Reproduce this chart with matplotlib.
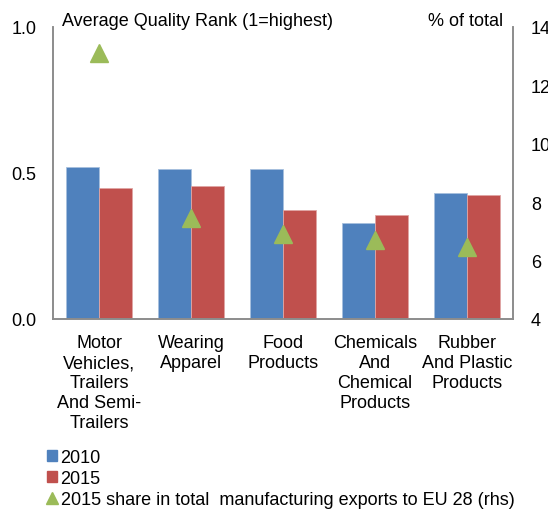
import matplotlib.pyplot as plt
import numpy as np
from matplotlib.lines import Line2D
from matplotlib.patches import Patch

plt.rcParams['font.family'] = ['Liberation Sans', 'DejaVu Sans']

# dados
categorias = ['Motor\nVehicles,\nTrailers\nAnd Semi-\nTrailers', 'Wearing\nApparel', 'Food\nProducts',
              'Chemicals\nAnd\nChemical\nProducts', 'Rubber\nAnd Plastic\nProducts']
rank_2010 = [0.52, 0.513, 0.513, 0.328, 0.43]
rank_2015 = [0.449, 0.457, 0.374, 0.355, 0.425]
share_2015 = [13.1, 7.45, 6.9, 6.72, 6.45]

azul = '#4F81BD'
vermelho = '#C0504D'
verde = '#9BBB59'
cinza = '#8C8C8C'
fs = 13

fig = plt.figure(figsize=(5.48, 5.10), dpi=100)
ax = fig.add_axes([53 / 548, (510 - 320) / 510, 460 / 548, 292 / 510])
ax2 = ax.twinx()

x = np.arange(len(categorias))
w = 0.362
ax.bar(x - w / 2, rank_2010, w, color=azul, edgecolor='#A7C0DE', linewidth=0.6, zorder=2)
ax.bar(x + w / 2, rank_2015, w, color=vermelho, edgecolor='#E0A5A4', linewidth=0.6, zorder=2)
ax2.plot(x, share_2015, linestyle='none', marker='^', markersize=13, color=verde)

ax.set_xlim(-0.5, len(categorias) - 0.5)
ax.set_ylim(0, 1.0)
ax.set_yticks([0.0, 0.5, 1.0])
ax.set_yticklabels(['0.0', '0.5', '1.0'])
ax2.set_ylim(4, 14)
ax2.set_yticks([4, 6, 8, 10, 12, 14])

ax.set_xticks(x)
ax.set_xticklabels(categorias, fontsize=fs, linespacing=1.22, va='top')

for a in (ax, ax2):
    for s in ['left', 'right', 'bottom']:
        a.spines[s].set_color(cinza)
        a.spines[s].set_linewidth(1.2)
    a.spines['top'].set_visible(False)
    a.tick_params(length=0, labelsize=fs, pad=12)
ax.tick_params(axis='x', pad=11)
ax2.tick_params(axis='y', pad=13)

fig.text(62 / 548, 1 - 21 / 510, 'Average Quality Rank (1=highest)', fontsize=fs, va='center', ha='left')
fig.text(503 / 548, 1 - 21 / 510, '% of total', fontsize=fs, va='center', ha='right')

handles = [Patch(color=azul), Patch(color=vermelho),
           Line2D([], [], linestyle='none', marker='^', markersize=9, color=verde)]
fig.legend(handles, ['2010', '2015', '2015 share in total  manufacturing exports to EU 28 (rhs)'],
           loc='upper left', bbox_to_anchor=(47 / 548, 1 - 450 / 510), frameon=False,
           fontsize=fs, handlelength=0.55, handleheight=0.55, handletextpad=0.2,
           labelspacing=0.22, borderpad=0, borderaxespad=0)

fig.savefig('out.png', dpi=100)
